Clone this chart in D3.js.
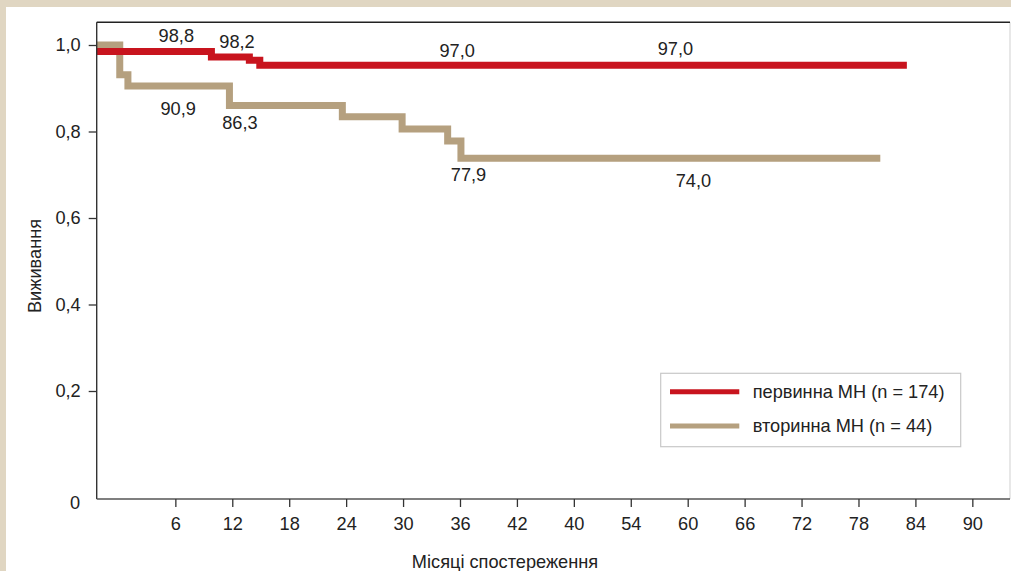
<!DOCTYPE html>
<html>
<head>
<meta charset="utf-8">
<script src="https://cdn.jsdelivr.net/npm/d3@7"></script>
<style>
  html, body { margin: 0; padding: 0; background: #e0d6c2; }
  svg { display: block; }
  text { font-family: "Liberation Sans", Arial, sans-serif; fill: #222; }
</style>
</head>
<body>
<svg id="chart" width="1011" height="571"></svg>
<script>
// ---- data ----
const seriesNames = ["первинна МН (n = 174)", "вторинна МН (n = 44)"];
const primaryDropMonths = [9.8, 13.8, 14.9];
const primarySurvival = [0.985, 0.972, 0.965, 0.953];
const primaryLastMonth = 83.1;
const secondaryDropMonths = [0.14, 1.0, 11.7, 23.6, 29.9, 34.7, 36.1];
const secondarySurvival = [1.0, 0.931, 0.905, 0.860, 0.834, 0.806, 0.778, 0.738];
const secondaryLastMonth = 80.3;

const xTickMonths = [6, 12, 18, 24, 30, 36, 42, 48, 54, 60, 66, 72, 78, 84, 90];
const xTickLabels = ["6", "12", "18", "24", "30", "36", "42", "40", "54", "60", "66", "72", "78", "84", "90"];
const yTickValues = [0.2, 0.4, 0.6, 0.8, 1.0];
const yTickLabels = ["0,2", "0,4", "0,6", "0,8", "1,0"];

const annotationTexts = ["98,8", "98,2", "97,0", "97,0", "90,9", "86,3", "77,9", "74,0"];
const annotationMonths = [6.1, 12.5, 35.7, 58.7, 6.3, 12.8, 36.9, 60.6];
const annotationValues = [1.021, 1.008, 0.988, 0.991, 0.853, 0.820, 0.700, 0.686];

// ---- layout ----
(function () {
const colors = ["#c8141e", "#b5a07f"];
const svg = d3.select("#chart");
const pLeft = 96.7, pRight = 1010, pTop = 22.3, pBottom = 499;
const x = d3.scaleLinear().domain([-2.29, 93.97]).range([pLeft, pRight]);
const y = d3.scaleLinear().domain([0, 1]).range([477.5, 45]);
const fontSize = 18.2;

// white panel
svg.append("rect").attr("x", 6).attr("y", 7).attr("width", 1005).attr("height", 564).attr("fill", "#fff");

// right light border
svg.append("line").attr("x1", pRight).attr("x2", pRight).attr("y1", pTop).attr("y2", pBottom)
  .attr("stroke", "#d8d8d8").attr("stroke-width", 1.2);

function buildSteps(dropMonths, surv, lastMonth) {
  const pts = [[x.domain()[0], surv[0]]];
  dropMonths.forEach((t, i) => pts.push([t, surv[i + 1]]));
  pts.push([lastMonth, surv[surv.length - 1]]);
  return pts;
}
const line = d3.line().x(d => x(d[0])).y(d => y(d[1])).curve(d3.curveStepAfter);

const curves = [
  buildSteps(secondaryDropMonths, secondarySurvival, secondaryLastMonth),
  buildSteps(primaryDropMonths, primarySurvival, primaryLastMonth)
];
const curveColors = [colors[1], colors[0]];
svg.selectAll("path.km").data(curves).enter().append("path")
  .attr("class", "km")
  .attr("d", line)
  .attr("fill", "none")
  .attr("stroke", (d, i) => curveColors[i])
  .attr("stroke-width", 7)
  .attr("stroke-linecap", "butt")
  .attr("stroke-linejoin", "miter");

// axes lines
svg.append("line").attr("x1", pLeft).attr("x2", pLeft).attr("y1", pTop).attr("y2", pBottom)
  .attr("stroke", "#333").attr("stroke-width", 1.4);
svg.append("line").attr("x1", pLeft).attr("x2", pRight).attr("y1", pTop).attr("y2", pTop)
  .attr("stroke", "#222").attr("stroke-width", 1.6);
svg.append("line").attr("x1", pLeft).attr("x2", pRight).attr("y1", pBottom).attr("y2", pBottom)
  .attr("stroke", "#555").attr("stroke-width", 1.4);

// y axis
const yAxis = d3.axisLeft(y).tickValues(yTickValues).tickSize(8).tickPadding(8)
  .tickFormat((d, i) => yTickLabels[i]);
const gy = svg.append("g").attr("transform", `translate(${pLeft},0)`).call(yAxis);
gy.select(".domain").remove();
gy.selectAll(".tick line").attr("stroke", "#333").attr("stroke-width", 1.3);
gy.selectAll(".tick text").attr("font-size", fontSize).attr("fill", "#222")
  .style("font-family", "'Liberation Sans', Arial, sans-serif");
// "0" at corner
svg.append("text").attr("x", pLeft - 16.5).attr("y", pBottom + 4).attr("dy", "0.32em")
  .attr("text-anchor", "end").attr("font-size", fontSize).text("0");

// x axis
const xAxis = d3.axisBottom(x).tickValues(xTickMonths).tickSize(8).tickPadding(10)
  .tickFormat((d, i) => xTickLabels[i]);
const gx = svg.append("g").attr("transform", `translate(0,${pBottom})`).call(xAxis);
gx.select(".domain").remove();
gx.selectAll(".tick line").attr("stroke", "#333").attr("stroke-width", 1.3);
gx.selectAll(".tick text").attr("font-size", fontSize).attr("fill", "#222")
  .style("font-family", "'Liberation Sans', Arial, sans-serif");

// axis titles
svg.append("text").attr("x", 505).attr("y", 562).attr("dy", "0.35em")
  .attr("text-anchor", "middle").attr("font-size", fontSize).text("Місяці спостереження");
svg.append("text").attr("transform", "translate(35,266) rotate(-90)").attr("dy", "0.35em")
  .attr("text-anchor", "middle").attr("font-size", fontSize).text("Виживання");

// annotations
svg.selectAll("text.ann").data(annotationTexts).enter().append("text")
  .attr("class", "ann")
  .attr("x", (d, i) => x(annotationMonths[i]))
  .attr("y", (d, i) => y(annotationValues[i]))
  .attr("dy", "0.35em")
  .attr("text-anchor", "middle")
  .attr("font-size", fontSize)
  .text(d => d);

// legend
const lg = svg.append("g");
lg.append("rect").attr("x", 660.7).attr("y", 373.3).attr("width", 300).attr("height", 73.4)
  .attr("fill", "#fff").attr("stroke", "#c8c8c8").attr("stroke-width", 1.2);
const legendRows = lg.selectAll("g.row").data(seriesNames).enter().append("g")
  .attr("class", "row")
  .attr("transform", (d, i) => `translate(670,${391.7 + i * 34.3})`);
legendRows.append("line").attr("x1", 0).attr("x2", 69.3).attr("y1", 0).attr("y2", 0)
  .attr("stroke", (d, i) => colors[i]).attr("stroke-width", 5);
legendRows.append("text").attr("x", 82.7).attr("dy", "0.35em")
  .attr("font-size", fontSize).text(d => d);
})();
</script>
</body>
</html>
